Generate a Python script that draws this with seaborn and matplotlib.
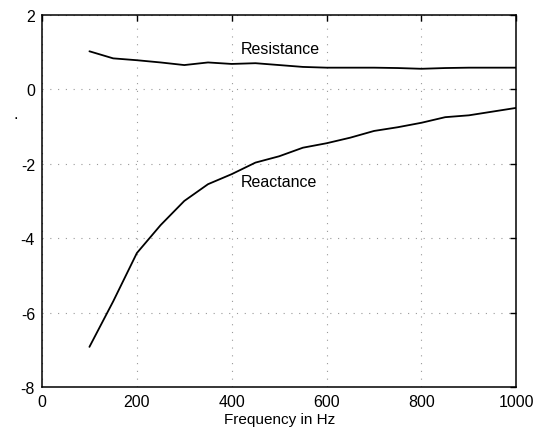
import matplotlib
matplotlib.use("Agg")
import matplotlib.pyplot as plt
import seaborn as sns
import pandas as pd

freq = [100, 150, 200, 250, 300, 350, 400, 450, 500, 550, 600, 650, 700, 750, 800, 850, 900, 950, 1000]
resistance = [1.02, 0.83, 0.78, 0.72, 0.65, 0.72, 0.68, 0.70, 0.65, 0.60, 0.58, 0.58, 0.58, 0.57, 0.55, 0.57, 0.58, 0.58, 0.58]
reactance = [-6.92, -5.70, -4.40, -3.65, -3.00, -2.55, -2.28, -1.97, -1.80, -1.57, -1.45, -1.30, -1.12, -1.02, -0.90, -0.75, -0.70, -0.60, -0.50]
labels = ["Resistance", "Reactance"]
x_ticks = [0, 200, 400, 600, 800, 1000]
y_ticks = [-8, -6, -4, -2, 0, 2]

sns.set_style("white")
plt.rcParams['font.family'] = ['Liberation Sans', 'DejaVu Sans']
plt.rcParams['axes.unicode_minus'] = False

df = pd.DataFrame({"Frequency": freq * 2,
                   "Value": resistance + reactance,
                   "Series": [labels[0]] * len(freq) + [labels[1]] * len(freq)})

fig = plt.figure(figsize=(5.49, 4.39), dpi=100)
ax = fig.add_axes([0.0765, 0.116, 0.864, 0.848])
sns.lineplot(data=df, x="Frequency", y="Value", units="Series", estimator=None,
             color="black", linewidth=1.3, ax=ax, legend=False)

ax.set_xlim(0, 1000)
ax.set_ylim(-8, 2)
ax.set_xticks(x_ticks)
ax.set_yticks(y_ticks)
ax.grid(True, linestyle=(0, (1, 6)), color="#999999", linewidth=0.8)
for s in ax.spines.values():
    s.set_color("black")
    s.set_linewidth(1.1)
ax.tick_params(direction="in", length=4, width=1, top=True, right=True,
               labelsize=11.5, colors="black", pad=5)
ax.set_xlabel("Frequency in Hz", fontsize=11, labelpad=2, color="black")
ax.set_ylabel(".", fontsize=12, rotation=0, color="black")
ax.yaxis.set_label_coords(-0.055, 0.715)
ax.text(418, 1.09, labels[0], fontsize=11.5, va="center", ha="left", color="black")
ax.text(418, -2.49, labels[1], fontsize=11.5, va="center", ha="left", color="black")

fig.savefig("out.png", dpi=100)
